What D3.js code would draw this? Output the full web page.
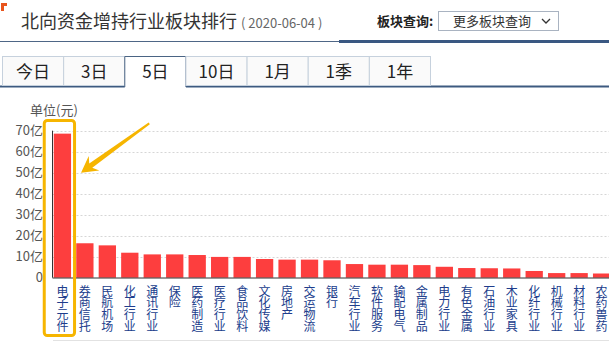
<!DOCTYPE html>
<html>
<head>
<meta charset="utf-8">
<script src="https://cdn.jsdelivr.net/npm/d3@7"></script>
<style>
  body { margin: 0; background: #fff; }
  svg { display: block; font-family: "Noto Sans CJK SC", "Microsoft YaHei", sans-serif; }
  .cat { writing-mode: vertical-rl; text-orientation: upright; }
</style>
</head>
<body>
<div id="chart"></div>
<script>
// 北向资金 5日 industry ranking (单位: 亿元)
const categories = ["电子元件", "券商信托", "民航机场", "化工行业", "通讯行业", "保险", "医药制造",
  "医疗行业", "食品饮料", "文化传媒", "房地产", "交运物流", "银行", "汽车行业", "软件服务",
  "输配电气", "金属制品", "电力行业", "有色金属", "石油行业", "木业家具", "化纤行业",
  "机械行业", "材料行业", "农药兽药"];
const values = [68.6, 16.4, 15.4, 11.9, 11.1, 11.1, 10.8, 9.9, 9.9, 8.9, 8.6, 8.6, 8.3,
  6.5, 6.2, 6.2, 6.0, 5.2, 4.6, 4.5, 4.4, 3.2, 2.2, 2.2, 2.0];
const yTicks = [0, 10, 20, 30, 40, 50, 60, 70];
const tabs = ["今日", "3日", "5日", "10日", "1月", "1季", "1年"];
const activeTab = "5日";

const W = 609, H = 342;
const svg = d3.select("#chart").append("svg").attr("width", W).attr("height", H);

// ---- header ----
svg.append("path").attr("d", "M1,3H7V6H4V11H1Z").attr("fill", "#e8541c");
svg.append("text").attr("x", 21).attr("y", 28).attr("font-size", 18).attr("fill", "#333")
  .text("北向资金增持行业板块排行");
svg.append("text").attr("x", 241).attr("y", 28).attr("font-size", 13).attr("fill", "#666")
  .text("( 2020-06-04 )");
svg.append("text").attr("x", 377).attr("y", 26).attr("font-size", 13).attr("fill", "#222")
  .attr("font-weight", "bold").text("板块查询:");
svg.append("rect").attr("x", 438.5).attr("y", 11.5).attr("width", 120).attr("height", 19)
  .attr("fill", "#fff").attr("stroke", "#a9b3c1");
svg.append("text").attr("x", 453).attr("y", 25.5).attr("font-size", 13).attr("fill", "#333")
  .text("更多板块查询");
svg.append("path").attr("d", "M542,19L546,23L550,19").attr("fill", "none")
  .attr("stroke", "#333").attr("stroke-width", 1.3);
svg.append("line").attr("x1", 0).attr("x2", 339).attr("y1", 41.5).attr("y2", 41.5)
  .attr("stroke", "#4e6686").attr("stroke-width", 1);
svg.append("line").attr("x1", 339).attr("x2", W).attr("y1", 41.5).attr("y2", 41.5)
  .attr("stroke", "#3a5882").attr("stroke-width", 3);

// ---- tabs ----
const tabX = d3.scaleBand().domain(tabs).range([2.5, 430.5]);
const tabTop = 56.5, tabBottom = 86;
const tg = svg.append("g");
tg.append("line").attr("x1", 0).attr("x2", W).attr("y1", tabBottom + 0.5).attr("y2", tabBottom + 0.5)
  .attr("stroke", "#3d5a80").attr("stroke-width", 2);
tabs.forEach(t => {
  const x0 = tabX(t), w = tabX.bandwidth();
  const active = t === activeTab;
  tg.append("rect").attr("x", x0).attr("y", tabTop).attr("width", w)
    .attr("height", tabBottom - tabTop + (active ? 2 : -0.5))
    .attr("fill", active ? "#fff" : "#fafafa")
    .attr("stroke", active ? "none" : "#c6d1dd");
  if (active) {
    tg.append("path")
      .attr("d", `M${x0},${tabBottom + 1}V${tabTop}H${x0 + w}V${tabBottom + 1}`)
      .attr("fill", "none").attr("stroke", "#4a6484");
  }
  tg.append("text").attr("x", x0 + w / 2).attr("y", tabTop + 21).attr("text-anchor", "middle")
    .attr("font-size", 17).attr("fill", "#222").text(t);
});

// ---- chart ----
const x = d3.scaleBand().domain(categories).range([51.5, 612.5]).paddingInner(0.23).paddingOuter(0.1);
const y = d3.scaleLinear().domain([0, 70]).range([277.7, 130.7]);
const axisX = 52.5;

svg.append("text").attr("x", 30).attr("y", 114.5).attr("font-size", 13).attr("fill", "#555")
  .text("单位(元)");

svg.append("g").selectAll("line").data(yTicks.filter(d => d > 0)).join("line")
  .attr("x1", axisX).attr("x2", W)
  .attr("y1", d => Math.round(y(d)) + 0.5).attr("y2", d => Math.round(y(d)) + 0.5)
  .attr("stroke", "#d6d6d6").attr("stroke-dasharray", "2,2");

svg.append("g").selectAll("text").data(yTicks).join("text")
  .attr("x", 43).attr("y", d => y(d)).attr("dy", "0.35em").attr("text-anchor", "end")
  .attr("font-size", 13).attr("fill", "#555")
  .text(d => d === 0 ? "0" : d + "亿");

svg.append("g").selectAll("rect").data(values).join("rect")
  .attr("x", (d, i) => x(categories[i]))
  .attr("width", x.bandwidth())
  .attr("y", d => y(d))
  .attr("height", d => y(0) - y(d))
  .attr("fill", "#fd3e3e");

svg.append("line").attr("x1", axisX).attr("x2", axisX).attr("y1", y(70)).attr("y2", y(0))
  .attr("stroke", "#333");
svg.append("line").attr("x1", axisX).attr("x2", W).attr("y1", y(0) + 0.3).attr("y2", y(0) + 0.3)
  .attr("stroke", "#333");

// vertical category labels, one text each, set in vertical writing mode
svg.append("g").selectAll("text").data(categories).join("text")
  .attr("class", "cat")
  .attr("x", c => x(c) + x.bandwidth() / 2)
  .attr("y", 285)
  .attr("font-size", 12)
  .attr("letter-spacing", -0.1)
  .attr("fill", "#203d8c")
  .text(c => c);

svg.append("line").attr("x1", 53).attr("x2", W).attr("y1", 340.5).attr("y2", 340.5)
  .attr("stroke", "#e2e2e2");

// ---- highlight on the top sector ----
const hx0 = x(categories[0]) - 9.5, hx1 = x(categories[0]) + x.bandwidth() + 3.5;
svg.append("rect").attr("x", hx0).attr("y", 120.5).attr("width", hx1 - hx0).attr("height", 215)
  .attr("rx", 3).attr("fill", "none").attr("stroke", "#f6b500").attr("stroke-width", 3);

// arrow pointing at it
const tip = [x(categories[0]) + x.bandwidth() + 10, y(50)];
const tail = [x(categories[4]) + x.bandwidth() / 2 - 3, y(73.5)];
const dx = tail[0] - tip[0], dy = tail[1] - tip[1], len = Math.hypot(dx, dy);
const ux = dx / len, uy = dy / len, px = -uy, py = ux;
const at = (a, b) => [tip[0] + ux * a + px * b, tip[1] + uy * a + py * b];
const arrowPts = [at(0, 0), at(16, 9), at(12, 2.6), at(len, 1), at(len, -1), at(12, -2.6), at(16, -9)];
svg.append("polygon").attr("points", arrowPts.map(p => p.join(",")).join(" "))
  .attr("fill", "#f6b500");
</script>
</body>
</html>
